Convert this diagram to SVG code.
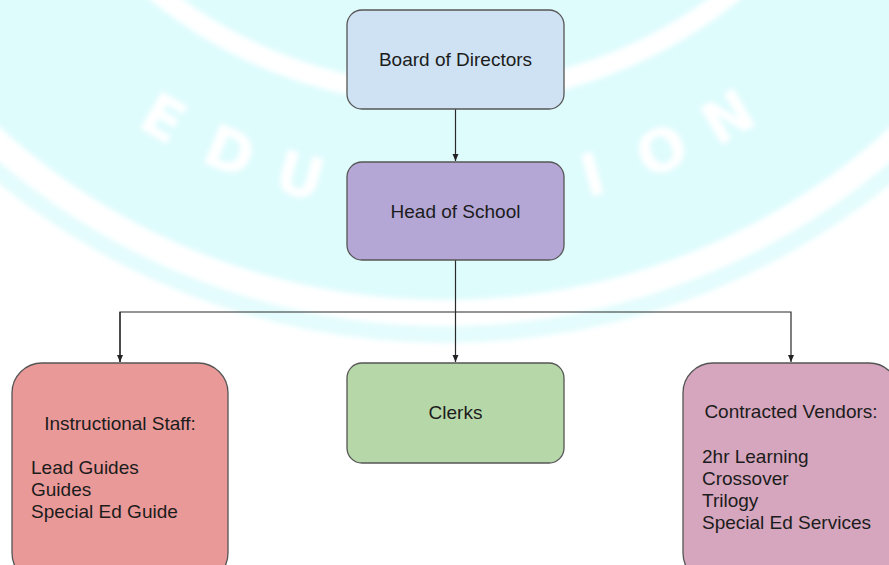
<svg xmlns="http://www.w3.org/2000/svg" width="889" height="565" viewBox="0 0 889 565">
  <defs>
    <filter id="soft" x="-10%" y="-10%" width="120%" height="120%">
      <feGaussianBlur stdDeviation="2.5"/>
    </filter>
    <marker id="arr" markerWidth="8" markerHeight="8" refX="7" refY="4" orient="auto" markerUnits="userSpaceOnUse">
      <path d="M0,1 L7,4 L0,7 Z" fill="#222"/>
    </marker>
    <path id="wmArc" d="M -53 -72.5 A 575 575 0 0 0 943 -72.5"/>
  </defs>
  <style>
    .node { stroke: #555; stroke-width: 1.3; }
    .lbl { font-family: "Liberation Sans", Arial, sans-serif; font-size: 19px; fill: #1c1c1c; }
    .mid { text-anchor: middle; }
    .conn { fill: none; stroke: #2a2a2a; stroke-width: 1.2; }
    .wm { font-family: "DejaVu Sans", sans-serif; font-weight: bold; font-size: 58px; fill: #ffffff; text-anchor: middle; }
  </style>

  <rect x="0" y="0" width="889" height="565" fill="#ffffff"/>

  <g id="watermark" filter="url(#soft)">
    <circle cx="445" cy="-360" r="703" fill="#e4fcfd"/>
    <circle cx="445" cy="-360" r="673" fill="none" stroke="#ffffff" stroke-width="26"/>
    <circle cx="445" cy="-360" r="660" fill="#dffcfd"/>
    <circle cx="445" cy="-360" r="455" fill="none" stroke="#ffffff" stroke-width="20"/>
    <text class="wm"><textPath href="#wmArc" startOffset="296">E</textPath></text>
    <text class="wm"><textPath href="#wmArc" startOffset="373">D</textPath></text>
    <text class="wm"><textPath href="#wmArc" startOffset="450">U</textPath></text>
    <text class="wm"><textPath href="#wmArc" startOffset="757">I</textPath></text>
    <text class="wm"><textPath href="#wmArc" startOffset="833">O</textPath></text>
    <text class="wm"><textPath href="#wmArc" startOffset="910">N</textPath></text>
  </g>

  <g id="connectors">
    <line class="conn" x1="455.5" y1="109" x2="455.5" y2="161" marker-end="url(#arr)"/>
    <line class="conn" x1="455.5" y1="260" x2="455.5" y2="362" marker-end="url(#arr)"/>
    <polyline class="conn" points="120,362 120,312 791,312 791,362" marker-end="url(#arr)"/>
    <line class="conn" x1="120" y1="312" x2="120" y2="362" marker-end="url(#arr)"/>
  </g>

  <g id="board">
    <rect class="node" x="347" y="10" width="217" height="99" rx="15" fill="#cfe2f3"/>
    <text class="lbl mid" x="455.5" y="66">Board of Directors</text>
  </g>

  <g id="head">
    <rect class="node" x="347" y="162" width="217" height="98" rx="15" fill="#b4a7d6"/>
    <text class="lbl mid" x="455.5" y="218">Head of School</text>
  </g>

  <g id="clerks">
    <rect class="node" x="347" y="363" width="217" height="100" rx="15" fill="#b6d7a8"/>
    <text class="lbl mid" x="455.5" y="419">Clerks</text>
  </g>

  <g id="instructional">
    <rect class="node" x="12" y="363" width="216" height="220" rx="30" fill="#ea9999"/>
    <text class="lbl mid" x="120" y="430">Instructional Staff:</text>
    <text class="lbl" x="31" y="474">Lead Guides</text>
    <text class="lbl" x="31" y="496">Guides</text>
    <text class="lbl" x="31" y="518">Special Ed Guide</text>
  </g>

  <g id="vendors">
    <rect class="node" x="683" y="363" width="216" height="220" rx="30" fill="#d5a6bd"/>
    <text class="lbl mid" x="791" y="418">Contracted Vendors:</text>
    <text class="lbl" x="702" y="463">2hr Learning</text>
    <text class="lbl" x="702" y="485">Crossover</text>
    <text class="lbl" x="702" y="507">Trilogy</text>
    <text class="lbl" x="702" y="529">Special Ed Services</text>
  </g>
</svg>
